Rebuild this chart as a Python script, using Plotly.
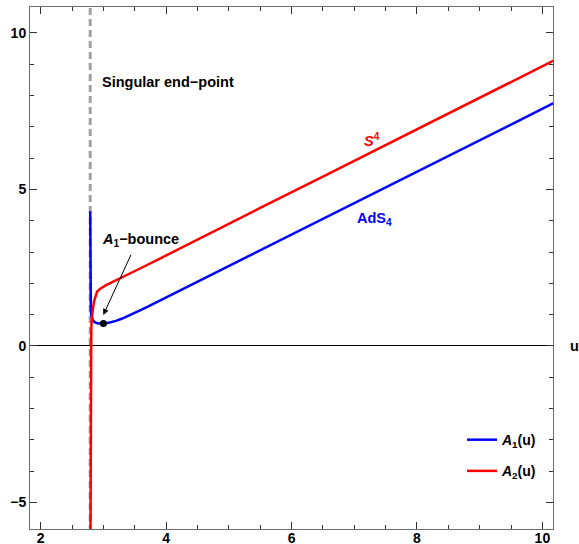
import plotly.graph_objects as go

# singular end-point
u0 = 2.789

# A1(u) (blue)
u1 = [2.789, 2.790, 2.792, 2.795, 2.799, 2.805, 2.813, 2.83, 2.85, 2.88, 2.92, 2.97, 3.02,
      3.1, 3.2, 3.3, 3.4, 3.5, 3.6, 3.7, 3.8, 3.9, 4.0, 4.3, 4.7, 5.5, 6.5, 7.5, 8.5, 9.5, 10.3]
a1 = [4.30, 3.00, 2.00, 1.45, 1.15, 0.98, 0.90, 0.83, 0.78, 0.74, 0.72, 0.72, 0.72,
      0.75, 0.80, 0.875, 0.96, 1.055, 1.15, 1.25, 1.35, 1.45, 1.55, 1.86, 2.27,
      3.07, 4.07, 5.07, 6.07, 7.07, 7.88]

# A2(u) (red)
u2 = [2.793, 2.794, 2.796, 2.798, 2.801, 2.806, 2.813, 2.82, 2.83, 2.85, 2.875, 2.90, 2.95,
      3.0, 3.05, 3.1, 3.2, 3.3, 3.4, 3.6, 3.9, 4.3, 4.7, 5.5, 6.5, 7.5, 8.5, 9.5, 10.3]
a2 = [-6.2, -4.0, -2.0, -0.8, 0.0, 0.5, 0.83, 1.0, 1.15, 1.42, 1.62, 1.74, 1.83,
      1.90, 1.95, 1.995, 2.09, 2.19, 2.29, 2.49, 2.79, 3.20, 3.60, 4.41, 5.41, 6.42, 7.43, 8.44, 9.24]

# bounce point
bounce_u = [3.0]
bounce_a = [0.72]

x_ticks = [2, 4, 6, 8, 10]
y_ticks = [-5, 0, 5, 10]
x_range = [1.829, 10.169]
y_range = [-5.85, 10.83]

FONT = "Liberation Sans, Arial, sans-serif"
FRAME = "#6e6e6e"
TICK = "#333333"

fig = go.Figure()

fig.add_trace(go.Scatter(x=[u0, u0], y=[-7, 12], mode="lines",
                         line=dict(color="#a0a0a0", width=3, dash="7px,4px"),
                         showlegend=False, hoverinfo="skip"))
fig.add_trace(go.Scatter(x=u1, y=a1, mode="lines", name="<i>A</i><sub>1</sub>(u)",
                         line=dict(color="#0000ff", width=2.5), legendgroup="a"))
fig.add_trace(go.Scatter(x=u2, y=a2, mode="lines", name="<i>A</i><sub>2</sub>(u)",
                         line=dict(color="#ff0000", width=2.5), legendgroup="b"))
fig.add_trace(go.Scatter(x=bounce_u, y=bounce_a, mode="markers",
                         marker=dict(color="black", size=7), showlegend=False,
                         hoverinfo="skip"))

tickfont = dict(family=FONT, size=14, color="black", weight="bold")

fig.update_layout(
    xaxis=dict(range=x_range, tickvals=x_ticks, zeroline=False, automargin=False,
               showline=True, linecolor=FRAME, linewidth=1, mirror="allticks",
               ticks="inside", tickcolor=TICK, tickwidth=1.3, ticklen=7,
               ticklabelstandoff=-4,
               showgrid=False, tickfont=tickfont,
               minor=dict(ticks="inside", dtick=0.5, tick0=0, ticklen=4,
                          tickcolor=TICK, tickwidth=1.3, showgrid=False)),
    yaxis=dict(range=y_range, tickvals=y_ticks, zeroline=True, automargin=False,
               zerolinecolor="black", zerolinewidth=1,
               showline=True, linecolor=FRAME, linewidth=1, mirror="allticks",
               ticks="inside", tickcolor=TICK, tickwidth=1.3, ticklen=7,
               showgrid=False, tickfont=tickfont,
               minor=dict(ticks="inside", dtick=1, tick0=0, ticklen=4,
                          tickcolor=TICK, tickwidth=1.3, showgrid=False)),
)

anno_font = dict(family=FONT, size=14.5, color="black", weight="bold")
fig.add_annotation(x=2.94, y=8.43, xref="x", yref="y", text="Singular end−point",
                   showarrow=False, xanchor="left", yanchor="middle", font=anno_font)
fig.add_annotation(x=2.94, y=3.38, xref="x", yref="y", text="<i>A</i><sub>1</sub>−bounce",
                   showarrow=False, xanchor="left", yanchor="middle", font=anno_font)
fig.add_annotation(x=7.28, y=6.59, xref="x", yref="y", text="<i>S</i><sup>4</sup>",
                   showarrow=False, xanchor="center", yanchor="middle",
                   font=dict(family=FONT, size=14.5, color="#ff0000", weight="bold"))
fig.add_annotation(x=7.33, y=4.05, xref="x", yref="y", text="AdS<sub>4</sub>",
                   showarrow=False, xanchor="center", yanchor="middle",
                   font=dict(family=FONT, size=14.5, color="#0000ff", weight="bold"))
fig.add_annotation(x=2.998, y=0.99, ax=3.45, ay=2.96, xref="x", yref="y",
                   axref="x", ayref="y", text="", showarrow=True,
                   arrowhead=2, arrowsize=1.2, arrowwidth=1, arrowcolor="black", standoff=0)
fig.add_annotation(x=1.0415, y=0, xref="paper", yref="y", text="u", showarrow=False,
                   xanchor="center", yanchor="middle", font=anno_font)

fig.update_layout(
    width=579, height=544,
    margin=dict(l=30, r=26, t=7, b=15),
    plot_bgcolor="white", paper_bgcolor="white",
    showlegend=True,
    legend=dict(x=0.826, y=0.201, xanchor="left", yanchor="top",
                bgcolor="rgba(0,0,0,0)", borderwidth=0,
                traceorder="grouped", tracegroupgap=10,
                font=dict(family=FONT, size=14, color="black", weight="bold")),
)

fig.write_html("out.html")
